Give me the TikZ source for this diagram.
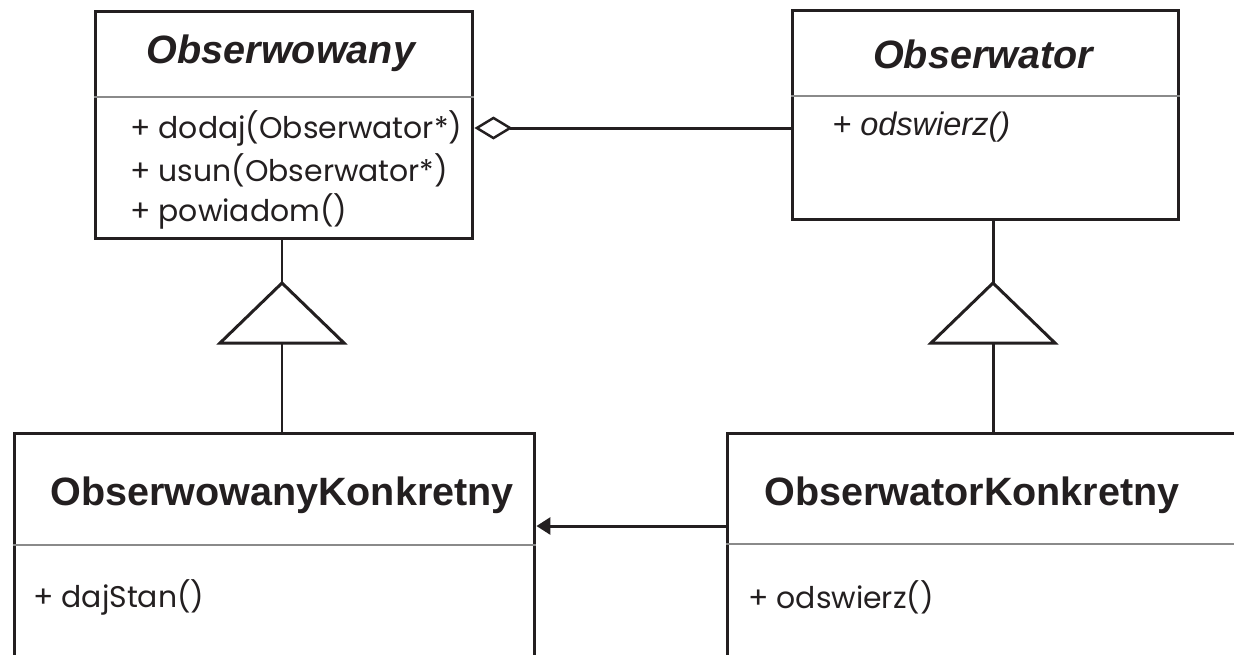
\documentclass[tikz,border=0pt]{standalone}
\usepackage{fontspec}
\setmainfont{Liberation Sans}
\newfontfamily\methfont{Poppins}
\usetikzlibrary{positioning,arrows.meta}

\definecolor{ink}{HTML}{231F20}
\definecolor{sepgray}{HTML}{8A8A8A}

\tikzset{
  klasa/.style={draw=ink, line width=1.7pt, rectangle, inner sep=0pt},
  tytul/.style={text=ink, inner sep=0pt, font=\fontsize{22.5}{27}\selectfont\bfseries},
  metoda/.style={text=ink, inner sep=0pt, anchor=west, font=\methfont\fontsize{17}{21}\selectfont},
  podzial/.style={draw=sepgray, line width=0.6pt},
  linia/.style={draw=ink, line width=1.7pt},
}

\begin{document}
\begin{tikzpicture}[x=0.02cm, y=-0.02cm]
	\clip (0,0) rectangle (1234,654);
	\fill[white] (0,0) rectangle (1234,654);
	% klasy
	\node[klasa, minimum width=7.56cm, minimum height=4.56cm] (obs) at (284,125) {};
	\node[klasa, minimum width=7.74cm, minimum height=4.2cm] (obr) at (985.5,115) {};
	\node[klasa, minimum width=10.42cm, minimum height=6.4cm] (obsK) at (274.5,593) {};
	\node[klasa, minimum width=11.46cm, minimum height=6.4cm] (obrK) at (1013.5,593) {};
	% podzialy
	\draw[podzial] (obs.west |- 0,97) -- (obs.east |- 0,97);
	\draw[podzial] (obr.west |- 0,96) -- (obr.east |- 0,96);
	\draw[podzial] (obsK.west |- 0,545) -- (obsK.east |- 0,545);
	\draw[podzial] (obrK.west |- 0,544) -- (obrK.east |- 0,544);
	% nazwy
	\node[tytul] (obsT) at (281,53) {\itshape Obserwowany};
	\node[tytul] (obrT) at (983,54) {\itshape Obserwator};
	\node[tytul] (obsKT) at (282,495) {ObserwowanyKonkretny};
	\node[tytul] (obrKT) at (972,495) {ObserwatorKonkretny};
	% metody
	\node[metoda] (m1) at (130,128) {+ dodaj(Obserwator*)};
	\node[metoda] (m2) at (130,170) {+ usun(Obserwator*)};
	\node[metoda] (m3) at (130,211) {+ powiadom()};
	\node[metoda, font=\fontsize{18.5}{22}\selectfont\itshape] (m4) at (832,127) {+ odswierz()};
	\node[metoda] (m5) at (33,597) {+ dajStan()};
	\node[metoda] (m6) at (748,597) {+ odswierz()};
	% agregacja
	\coordinate (agg) at (0,128);
	\draw[linia, {Diamond[open, length=0.76cm, width=0.46cm, line width=1.4pt]}-] (obs.east |- agg) -- (obr.west |- agg);
	% dziedziczenie
	\coordinate (tA) at (282,283);
	\coordinate (tB) at (993,283);
	\draw[linia] (tA |- obs.south) -- (tA);
	\draw[linia, line join=miter] (tA) -- ++(-62,60) -- ++(124,0) -- cycle;
	\draw[linia] ([yshift=-1.2cm]tA) -- (tA |- obsK.north);
	\draw[linia] (tB |- obr.south) -- (tB);
	\draw[linia, line join=miter] (tB) -- ++(-62,60) -- ++(124,0) -- cycle;
	\draw[linia] ([yshift=-1.2cm]tB) -- (tB |- obrK.north);
	% asocjacja
	\coordinate (asc) at (0,526);
	\draw[linia, -{Triangle[length=0.28cm, width=0.34cm]}] (obrK.west |- asc) -- (obsK.east |- asc);
\end{tikzpicture}
\end{document}
